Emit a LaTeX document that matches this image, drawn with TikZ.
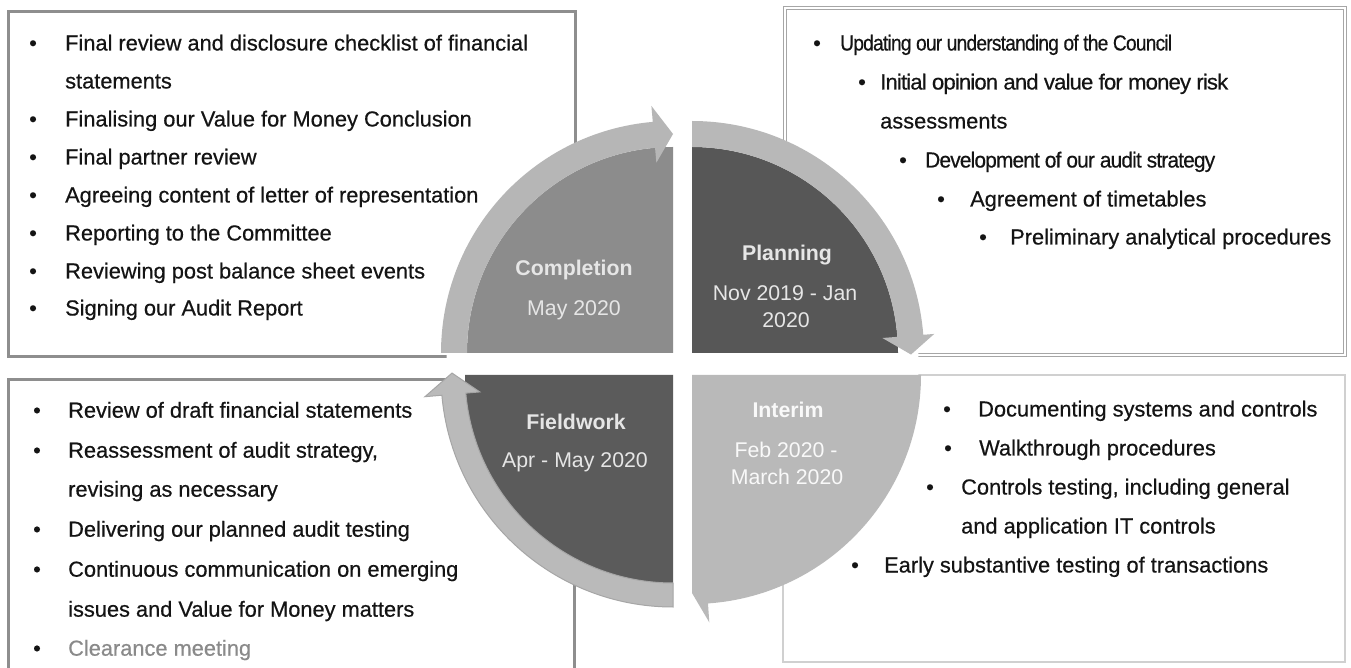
\documentclass[tikz,border=0pt]{standalone}
\usepackage{fontspec}
\usepackage{graphicx}
\setmainfont{Liberation Sans}
\newfontfamily\listfont{Liberation Sans}[FakeBold=0.5]
\definecolor{txt}{HTML}{141414}
\definecolor{boxA}{HTML}{8E8E8E}
\definecolor{boxB}{HTML}{A6A6A6}
\definecolor{boxD}{HTML}{D0D0D0}
\definecolor{compfill}{HTML}{8C8C8C}
\definecolor{compring}{HTML}{B6B6B6}
\definecolor{planfill}{HTML}{575757}
\definecolor{planring}{HTML}{B8B8B8}
\definecolor{fieldfill}{HTML}{5B5B5B}
\definecolor{fieldring}{HTML}{BABABA}
\definecolor{intfill}{HTML}{B9B9B9}
\definecolor{lbl}{HTML}{E6E6E6}
\definecolor{grayitem}{HTML}{8A8A8A}
\newcommand{\fitto}[2]{\resizebox{#1pt}{\height}{\addfontfeature{LetterSpace=-4}#2}}
\begin{document}
\begin{tikzpicture}[x=1pt,y=1pt,
  itm/.style={anchor=base west, inner sep=0pt, text=txt, font=\listfont\fontsize{21.8}{26}\selectfont},
  lab/.style={anchor=base, inner sep=0pt, text=lbl, font=\fontsize{21.3}{25}\selectfont},
  labb/.style={lab, font=\fontsize{21.3}{25}\selectfont\bfseries},
  boxline/.style={line width=3pt, draw=boxA},
]
\useasboundingbox (0,0) rectangle (1351,667);
\fill[white] (0,0) rectangle (1351,667);

% boxes
\draw[boxline] (8,-10) rectangle (574,287);
\draw[boxline] (8,310) rectangle (575,655);
\draw[draw=boxB, line width=1pt, double=white, double distance=1.5pt] (785,312) rectangle (1345,659);
\draw[draw=boxD, line width=2pt] (783,5) rectangle (1345,292);

% white disc behind the cycle
\fill[white] (682.5,303) circle[radius=236];

% Completion
\begin{scope}[shift={(673,314)}]
  \fill[compfill] (0,0) -- (180:206) arc[start angle=180,end angle=90,radius=206] -- cycle;
  \fill[compring] (180:206) arc[start angle=180,end angle=95,radius=206]
     -- (95:191) -- (90:219) -- (95:248) -- (95:232)
     arc[start angle=95,end angle=180,radius=232] -- cycle;
\end{scope}
% Planning
\begin{scope}[shift={(692,314)}]
  \fill[planfill] (0,0) -- (90:206) arc[start angle=90,end angle=0,radius=206] -- cycle;
  \fill[planring] (90:206) arc[start angle=90,end angle=4.5,radius=206]
     -- (4.5:191) -- (-0.4:219) -- (4.5:243) -- (4.5:232)
     arc[start angle=4.5,end angle=90,radius=232] -- cycle;
\end{scope}
% Interim
\begin{scope}[shift={(692,292)}]
  \fill[intfill] (0,0) -- (0:229) arc[start angle=0,end angle=-86,radius=229]
     -- (-86:248) -- (-90:218) -- cycle;
\end{scope}
% Fieldwork
\begin{scope}[shift={(673,292)}]
  \fill[fieldfill] (0,0) -- (270:208) arc[start angle=270,end angle=180,radius=208] -- cycle;
  \filldraw[fill=fieldring, draw=gray!70, line width=1pt] (270:208) arc[start angle=270,end angle=185,radius=208]
     -- (185:194) -- (179.5:221) -- (185:249) -- (185:232)
     arc[start angle=185,end angle=270,radius=232] -- cycle;
\end{scope}

% cycle labels
\node[labb] (compT) at (574,391.3) {Completion};
\node[lab]  (compD) at (574,351.3) {May 2020};
\node[labb] (planT) at (787,406.3) {Planning};
\node[lab]  (planD) at (785,366.3) {Nov 2019 - Jan};
\node[lab]  (planE) at (786,339.3) {2020};
\node[labb] (fieldT) at (576,237.3) {Fieldwork};
\node[lab]  (fieldD) at (575,199.3) {Apr - May 2020};
\node[labb, text=white!95!gray] (intT) at (788,249.3) {Interim};
\node[lab, text=white!95!gray]  (intD) at (786,209.3) {Feb 2020 -};
\node[lab, text=white!95!gray]  (intE) at (787,182.3) {March 2020};

% top-left list
\node[itm] (tlb1) at (29,616.5) {\textbullet};
\node[itm] (tl1) at (65,616.5) {Final review and disclosure checklist of financial};
\node[itm] (tl1b) at (65,578.5) {statements};
\node[itm] (tlb2) at (29,540.5) {\textbullet};
\node[itm] (tl2) at (65,540.5) {Finalising our Value for Money Conclusion};
\node[itm] (tlb3) at (29,502.5) {\textbullet};
\node[itm] (tl3) at (65,502.5) {Final partner review};
\node[itm] (tlb4) at (29,464.5) {\textbullet};
\node[itm] (tl4) at (65,464.5) {Agreeing content of letter of representation};
\node[itm] (tlb5) at (29,426.5) {\textbullet};
\node[itm] (tl5) at (65,426.5) {Reporting to the Committee};
\node[itm] (tlb6) at (29,388.5) {\textbullet};
\node[itm] (tl6) at (65,388.5) {Reviewing post balance sheet events};
\node[itm] (tlb7) at (29,351.5) {\textbullet};
\node[itm] (tl7) at (65,351.5) {Signing our Audit Report};

% top-right list
\node[itm] (trb1) at (813,616.5) {\textbullet};
\node[itm] (tr1) at (840,616.5) {\fitto{332}{Updating our understanding of the Council}};
\node[itm] (trb2) at (858,577.5) {\textbullet};
\node[itm] (tr2) at (880,577.5) {\fitto{348}{Initial opinion and value for money risk}};
\node[itm] (tr2b) at (880,538.5) {assessments};
\node[itm] (trb3) at (899,499.5) {\textbullet};
\node[itm] (tr3) at (925,499.5) {\fitto{290}{Development of our audit strategy}};
\node[itm] (trb4) at (937,460.5) {\textbullet};
\node[itm] (tr4) at (970,460.5) {Agreement of timetables};
\node[itm] (trb5) at (979,422.5) {\textbullet};
\node[itm] (tr5) at (1010,422.5) {Preliminary analytical procedures};

% bottom-left list
\node[itm] (blb1) at (33,249.3) {\textbullet};
\node[itm] (bl1) at (68,249.3) {Review of draft financial statements};
\node[itm] (blb2) at (33,209.3) {\textbullet};
\node[itm] (bl2) at (68,209.3) {Reassessment of audit strategy,};
\node[itm] (bl2b) at (68,170.3) {revising as necessary};
\node[itm] (blb3) at (33,130.3) {\textbullet};
\node[itm] (bl3) at (68,130.3) {Delivering our planned audit testing};
\node[itm] (blb4) at (33,90.3) {\textbullet};
\node[itm] (bl4) at (68,90.3) {Continuous communication on emerging};
\node[itm] (bl4b) at (68,50.3) {issues and Value for Money matters};
\node[itm] (blb5) at (33,11.3) {\textbullet};
\node[itm, text=grayitem] (bl5) at (68,11.3) {Clearance meeting};

% bottom-right list
\node[itm] (brb1) at (943,250.5) {\textbullet};
\node[itm] (br1) at (978,250.5) {Documenting systems and controls};
\node[itm] (brb2) at (944,211.5) {\textbullet};
\node[itm] (br2) at (979,211.5) {Walkthrough procedures};
\node[itm] (brb3) at (926,172.5) {\textbullet};
\node[itm] (br3) at (961,172.5) {Controls testing, including general};
\node[itm] (br3b) at (961,133.5) {and application IT controls};
\node[itm] (brb4) at (851,94.5) {\textbullet};
\node[itm] (br4) at (884,94.5) {Early substantive testing of transactions};
\end{tikzpicture}
\end{document}
